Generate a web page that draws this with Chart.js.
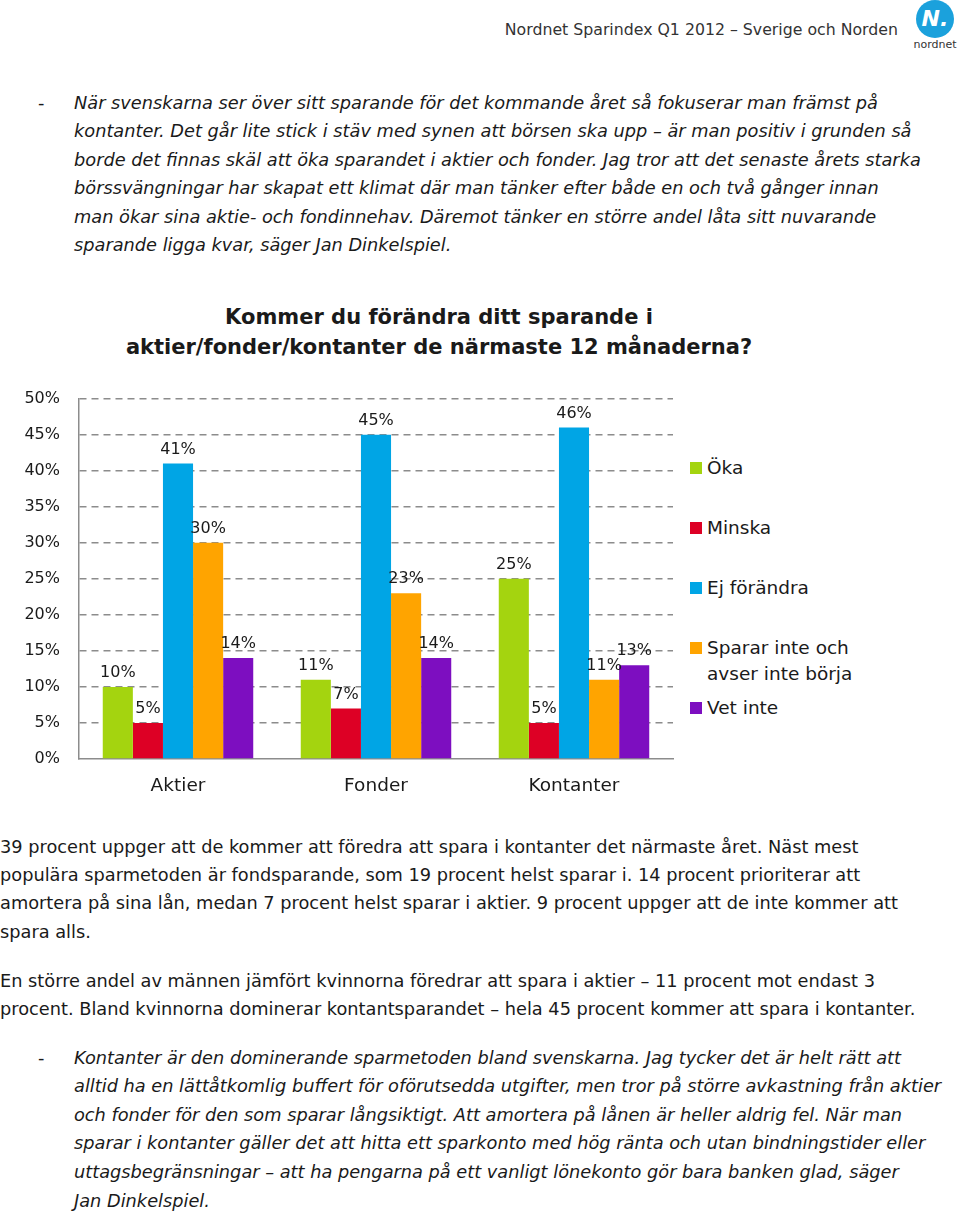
<!DOCTYPE html>
<html>
<head>
<meta charset="utf-8">
<script src="https://cdn.jsdelivr.net/npm/chart.js@4.4.1/dist/chart.umd.min.js"></script>
<style>
  body { margin: 0; background: #fff; font-family: "DejaVu Sans", sans-serif; color: #1a1a1a; }
  #page { position: relative; width: 960px; height: 1214px; overflow: hidden; }
  .ln { position: absolute; white-space: nowrap; font-size: 17.75px; line-height: 20px; }
  .it { font-style: italic; }
  .head { position: absolute; right: 62px; top: 20px; font-size: 15.75px; color: #333; white-space: nowrap; }
  .logo { position: absolute; left: 916px; top: 0px; width: 38px; height: 38px; border-radius: 50%; background: #1ba1dc; color: #fff; font-weight: bold; font-style: italic; font-size: 22px; text-align: center; line-height: 38px; }
  .logotxt { position: absolute; left: 910px; top: 38px; width: 50px; text-align: center; font-size: 11px; color: #333; }
  .title { position: absolute; left: 0; width: 878px; text-align: center; font-weight: bold; font-size: 21px; line-height: 30px; white-space: nowrap; }
  #chartBox { position: absolute; left: 0; top: 370px; width: 680px; height: 430px; }
  .lg { position: absolute; font-size: 18.5px; line-height: 26px; white-space: nowrap; color: #1a1a1a; }
  .sw { position: absolute; width: 12px; height: 12px; }
</style>
</head>
<body>
<div id="page">
  <div class="head">Nordnet Sparindex Q1 2012 – Sverige och Norden</div>
  <div class="logo">N.</div>
  <div class="logotxt">nordnet</div>

  <div class="ln" style="left:38px;top:93px">-</div>
  <div class="ln it" style="left:74px;top:93px">När svenskarna ser över sitt sparande för det kommande året så fokuserar man främst på</div>
  <div class="ln it" style="left:74px;top:121px">kontanter. Det går lite stick i stäv med synen att börsen ska upp – är man positiv i grunden så</div>
  <div class="ln it" style="left:74px;top:150px">borde det finnas skäl att öka sparandet i aktier och fonder. Jag tror att det senaste årets starka</div>
  <div class="ln it" style="left:74px;top:178px">börssvängningar har skapat ett klimat där man tänker efter både en och två gånger innan</div>
  <div class="ln it" style="left:74px;top:207px">man ökar sina aktie- och fondinnehav. Däremot tänker en större andel låta sitt nuvarande</div>
  <div class="ln it" style="left:74px;top:235px">sparande ligga kvar, säger Jan Dinkelspiel.</div>

  <div class="title" style="top:302px">Kommer du förändra ditt sparande i</div>
  <div class="title" style="top:332px">aktier/fonder/kontanter de närmaste 12 månaderna?</div>

  <div id="chartBox"><canvas id="chart"></canvas></div>
  <div id="legend"></div>

  <div class="ln" style="left:0;top:837px">39 procent uppger att de kommer att föredra att spara i kontanter det närmaste året. Näst mest</div>
  <div class="ln" style="left:0;top:865px">populära sparmetoden är fondsparande, som 19 procent helst sparar i. 14 procent prioriterar att</div>
  <div class="ln" style="left:0;top:893px">amortera på sina lån, medan 7 procent helst sparar i aktier. 9 procent uppger att de inte kommer att</div>
  <div class="ln" style="left:0;top:922px">spara alls.</div>
  <div class="ln" style="left:0;top:971px">En större andel av männen jämfört kvinnorna föredrar att spara i aktier – 11 procent mot endast 3</div>
  <div class="ln" style="left:0;top:999px">procent. Bland kvinnorna dominerar kontantsparandet – hela 45 procent kommer att spara i kontanter.</div>

  <div class="ln" style="left:38px;top:1048px">-</div>
  <div class="ln it" style="left:74px;top:1048px">Kontanter är den dominerande sparmetoden bland svenskarna. Jag tycker det är helt rätt att</div>
  <div class="ln it" style="left:74px;top:1076px">alltid ha en lättåtkomlig buffert för oförutsedda utgifter, men tror på större avkastning från aktier</div>
  <div class="ln it" style="left:74px;top:1105px">och fonder för den som sparar långsiktigt. Att amortera på lånen är heller aldrig fel. När man</div>
  <div class="ln it" style="left:74px;top:1133px">sparar i kontanter gäller det att hitta ett sparkonto med hög ränta och utan bindningstider eller</div>
  <div class="ln it" style="left:74px;top:1162px">uttagsbegränsningar – att ha pengarna på ett vanligt lönekonto gör bara banken glad, säger</div>
  <div class="ln it" style="left:74px;top:1191px">Jan Dinkelspiel.</div>
</div>

<script>
const categories = ["Aktier", "Fonder", "Kontanter"];
const seriesNames = ["Öka", "Minska", "Ej förändra", "Sparar inte och avser inte börja", "Vet inte"];
const legendLines = [["Öka"], ["Minska"], ["Ej förändra"], ["Sparar inte och", "avser inte börja"], ["Vet inte"]];
const seriesColors = ["#a4d40f", "#dd0025", "#00a5e5", "#ffa400", "#7d0ec0"];
const okaValues = [10, 11, 25];
const minskaValues = [5, 7, 5];
const ejForandraValues = [41, 45, 46];
const spararInteValues = [30, 23, 11];
const vetInteValues = [14, 14, 13];
const yTicks = [0, 5, 10, 15, 20, 25, 30, 35, 40, 45, 50];

const allValues = [okaValues, minskaValues, ejForandraValues, spararInteValues, vetInteValues];

// etiketter ovanför staplarna
const valueLabels = {
  id: "valueLabels",
  afterDatasetsDraw(chart) {
    const ctx = chart.ctx;
    ctx.save();
    ctx.font = '16px "DejaVu Sans", sans-serif';
    ctx.fillStyle = "#1a1a1a";
    ctx.textAlign = "center";
    ctx.textBaseline = "bottom";
    chart.data.datasets.forEach((ds, i) => {
      chart.getDatasetMeta(i).data.forEach((bar, j) => {
        ctx.fillText(ds.data[j] + "%", bar.x, bar.y - 6);
      });
    });
    ctx.restore();
  }
};

new Chart(document.getElementById("chart"), {
  type: "bar",
  data: {
    labels: categories,
    datasets: allValues.map((vals, i) => ({
      label: seriesNames[i],
      data: vals,
      backgroundColor: seriesColors[i],
      borderWidth: 0,
      barPercentage: 1,
      categoryPercentage: 0.76
    }))
  },
  options: {
    responsive: true,
    maintainAspectRatio: false,
    animation: false,
    layout: { padding: { top: 0, right: 7, left: 0, bottom: 0 } },
    plugins: { legend: { display: false }, tooltip: { enabled: false } },
    scales: {
      x: {
        grid: { display: false, drawTicks: false },
        border: { color: "#8c8c8c", width: 1.5 },
        ticks: { color: "#1a1a1a", font: { family: "DejaVu Sans", size: 18.5 }, padding: 16 },
        afterFit(scale) { scale.height = 41; }
      },
      y: {
        min: 0,
        max: 50,
        afterBuildTicks(scale) { scale.ticks = yTicks.map(v => ({ value: v })); },
        grid: {
          color: (c) => (c.tick && c.tick.value === 0 ? "rgba(0,0,0,0)" : "#8c8c8c"),
          lineWidth: 1.5,
          drawTicks: false
        },
        border: { color: "#8c8c8c", width: 1.5, dash: [7, 5] },
        ticks: {
          color: "#1a1a1a",
          font: { family: "DejaVu Sans", size: 16 },
          padding: 19,
          callback: (v) => v + "%"
        },
        afterFit(scale) { scale.width = 79; }
      }
    }
  },
  plugins: [valueLabels]
});

// legend till höger
const legendEl = document.getElementById("legend");
const legendTop = [455, 515, 575, 635, 695];
legendLines.forEach((lines, i) => {
  const sw = document.createElement("div");
  sw.className = "sw";
  sw.style.left = "690px";
  sw.style.top = (legendTop[i] + 7) + "px";
  sw.style.background = seriesColors[i];
  legendEl.appendChild(sw);
  const t = document.createElement("div");
  t.className = "lg";
  t.style.left = "707px";
  t.style.top = legendTop[i] + "px";
  t.innerHTML = lines.join("<br>");
  legendEl.appendChild(t);
});
</script>
</body>
</html>
